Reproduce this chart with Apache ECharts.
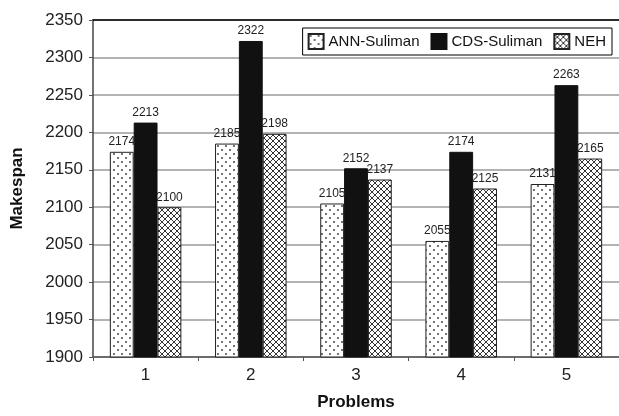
<!DOCTYPE html>
<html>
<head>
<meta charset="utf-8">
<script src="https://cdn.jsdelivr.net/npm/echarts@6/dist/echarts.min.js"></script>
<style>
  html, body { margin: 0; padding: 0; background: #fff; }
  #chart { width: 619px; height: 416px; }
</style>
</head>
<body>
<div id="chart"></div>
<script>
// Makespan per problem for three scheduling heuristics
const problems = ['1', '2', '3', '4', '5'];
const annSuliman = [2174, 2185, 2105, 2055, 2131];
const cdsSuliman = [2213, 2322, 2152, 2174, 2263];
const neh = [2100, 2198, 2137, 2125, 2165];
const yTicks = [1900, 1950, 2000, 2050, 2100, 2150, 2200, 2250, 2300, 2350];

// Fill textures: dotted for ANN, cross-hatch for NEH
function dotPattern() {
  const c = document.createElement('canvas');
  c.width = 8; c.height = 8;
  const g = c.getContext('2d');
  g.fillStyle = '#fff';
  g.fillRect(0, 0, 8, 8);
  g.fillStyle = '#333';
  g.beginPath(); g.arc(2, 2, 0.9, 0, Math.PI * 2); g.fill();
  g.beginPath(); g.arc(6, 6, 0.9, 0, Math.PI * 2); g.fill();
  return c;
}
function hatchPattern() {
  const c = document.createElement('canvas');
  c.width = 6; c.height = 6;
  const g = c.getContext('2d');
  g.fillStyle = '#fff';
  g.fillRect(0, 0, 6, 6);
  g.strokeStyle = '#333';
  g.lineWidth = 1;
  g.beginPath();
  g.moveTo(-1, -1); g.lineTo(7, 7);
  g.moveTo(-1, 7); g.lineTo(7, -1);
  g.stroke();
  return c;
}

const chart = echarts.init(document.getElementById('chart'), null, { renderer: 'canvas' });
const font = 'Liberation Sans, Arial, sans-serif';

const labelStyle = {
  show: true,
  position: 'top',
  distance: 4,
  fontSize: 12,
  color: '#222',
  fontFamily: font
};

chart.setOption({
  animation: false,
  backgroundColor: '#fff',
  textStyle: { fontFamily: font },
  grid: { left: 93, right: 0, top: 20, bottom: 53 },
  legend: {
    right: 7,
    top: 28,
    padding: [5, 6, 5, 5],
    itemGap: 11,
    itemWidth: 15,
    itemHeight: 15,
    backgroundColor: '#fff',
    borderColor: '#000',
    borderWidth: 1,
    borderRadius: 0,
    textStyle: { fontSize: 15, color: '#111', fontFamily: font, padding: [0, 0, 0, 0] },
    data: [
      { name: 'ANN-Suliman', icon: 'rect' },
      { name: 'CDS-Suliman', icon: 'rect' },
      { name: 'NEH', icon: 'rect' }
    ]
  },
  xAxis: [
    {
      type: 'category',
      data: problems,
      name: 'Problems',
      nameLocation: 'middle',
      nameGap: 37,
      nameTextStyle: { fontSize: 17, fontWeight: 'bold', color: '#111' },
      axisLine: { lineStyle: { color: '#555', width: 1.5 } },
      axisTick: { show: true, length: 4, lineStyle: { color: '#555' } },
      axisLabel: { fontSize: 17, color: '#222', margin: 10 }
    },
    {
      type: 'category',
      data: problems,
      position: 'top',
      axisLine: { show: true, lineStyle: { color: '#000', width: 1.5 } },
      axisTick: { show: false },
      axisLabel: { show: false }
    }
  ],
  yAxis: {
    type: 'value',
    min: yTicks[0],
    max: yTicks[yTicks.length - 1],
    interval: 50,
    name: 'Makespan',
    nameLocation: 'middle',
    nameGap: 67,
    nameTextStyle: { fontSize: 17, fontWeight: 'bold', color: '#111' },
    axisLine: { show: true, lineStyle: { color: '#444', width: 1.5 } },
    axisTick: { show: true, length: 4, lineStyle: { color: '#555' } },
    axisLabel: { fontSize: 17, color: '#222', margin: 10, formatter: v => String(v) },
    splitLine: { lineStyle: { color: '#9a9a9a', width: 1.5 } }
  },
  series: [
    {
      name: 'ANN-Suliman',
      type: 'bar',
      data: annSuliman,
      barGap: '0%',
      barCategoryGap: '32%',
      itemStyle: {
        color: { image: dotPattern(), repeat: 'repeat' },
        borderColor: '#222',
        borderWidth: 1
      },
      label: labelStyle
    },
    {
      name: 'CDS-Suliman',
      type: 'bar',
      data: cdsSuliman,
      itemStyle: { color: '#111', borderColor: '#111', borderWidth: 1 },
      label: labelStyle
    },
    {
      name: 'NEH',
      type: 'bar',
      data: neh,
      itemStyle: {
        color: { image: hatchPattern(), repeat: 'repeat' },
        borderColor: '#222',
        borderWidth: 1
      },
      label: labelStyle
    }
  ]
});
</script>
</body>
</html>
